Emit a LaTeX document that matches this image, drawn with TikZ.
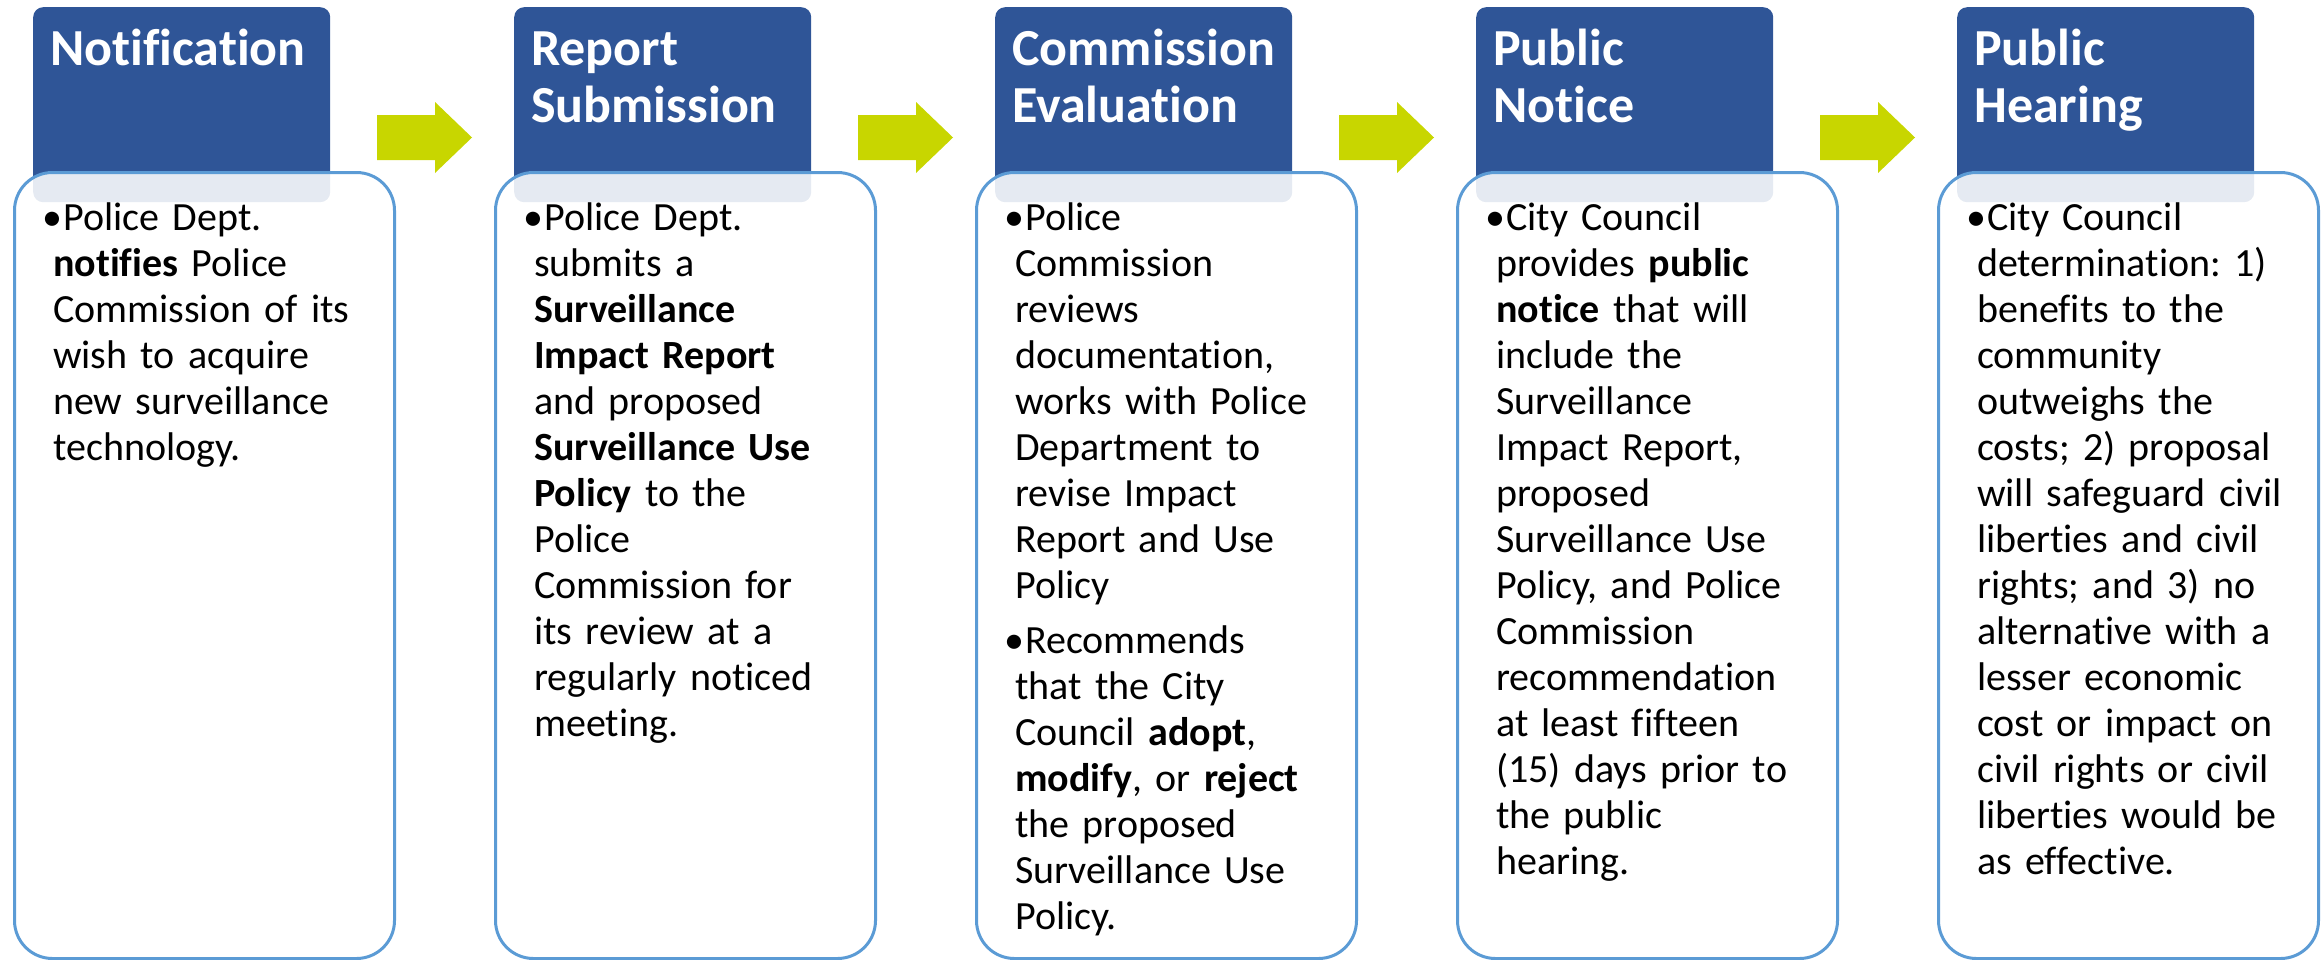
\documentclass[tikz,border=0pt]{standalone}
\usepackage{fontspec}
\setmainfont{Carlito}[Ligatures=NoCommon]
\frenchspacing

\definecolor{stepblue}{RGB}{47,85,151}
\definecolor{frameblue}{RGB}{91,155,213}
\definecolor{arrowgreen}{RGB}{200,214,0}

% bullet hung to the left of the first line
\newcommand{\bul}{\makebox[0pt][l]{\hspace{-11pt}\textbullet}\hspace*{10pt}}

\tikzset{
  headbox/.style={fill=stepblue, rounded corners=10pt, minimum width=297pt,
    minimum height=195pt, anchor=north west, inner sep=0pt},
  headtext/.style={anchor=base west, inner sep=0pt, text=white, text width=280pt,
    align=left, font=\fontsize{52}{57}\selectfont\bfseries},
  bodybox/.style={draw=frameblue, line width=3pt, fill=white, fill opacity=0.88,
    rounded corners=38pt, minimum width=380pt, minimum height=786pt,
    anchor=north west, inner sep=0pt},
  bodytext/.style={anchor=base west, inner sep=0pt, text width=340pt,
    align=left, font=\fontsize{40}{46}\selectfont},
  gaparrow/.style={fill=arrowgreen},
}

\begin{document}
\begin{tikzpicture}[x=1pt, y=-1pt]
  \useasboundingbox (0,0) rectangle (2323,959);

  % title tabs, then the boxes laid over their lower edge
  \foreach \i in {0,...,4}
    \node[headbox] (h\i) at ({33+481*\i},7) {};
  \foreach \i in {0,...,4}
    \node[bodybox] (b\i) at ({13+481*\i},171) {};

  % block arrows between the steps
  \foreach \i in {0,...,3}
    \fill[gaparrow] ({377+481*\i},115) -- ++(58,0) -- ++(0,-13) -- ++(37,35.5)
      -- ++(-37,35.5) -- ++(0,-13) -- ++(-58,0) -- cycle;

  % titles
  \node[headtext] (t0) at (50,65) {Notification};
  \node[headtext] (t1) at (531,65) {Report\\Submission};
  \node[headtext] (t2) at (1012,65) {Commission\\Evaluation};
  \node[headtext] (t3) at (1493,65) {Public\\Notice};
  \node[headtext] (t4) at (1974,65) {Public\\Hearing};

  % step texts
  \node[bodytext] (p0) at (53,230) {\bul Police Dept.\\
    \textbf{notifies} Police\\ Commission of its\\ wish to acquire\\
    new surveillance\\ technology.};
  \node[bodytext] (p1) at (534,230) {\bul Police Dept.\\ submits a\\
    \textbf{Surveillance}\\ \textbf{Impact Report}\\ and proposed\\
    \textbf{Surveillance Use}\\ \textbf{Policy} to the\\ Police\\
    Commission for\\ its review at a\\ regularly noticed\\ meeting.};
  \node[bodytext] (p2) at (1015,230) {\bul Police\\ Commission\\ reviews\\
    documentation,\\ works with Police\\ Department to\\ revise Impact\\
    Report and Use\\ Policy\\[9pt]
    \bul Recommends\\ that the City\\ Council \textbf{adopt},\\
    \textbf{modify}, or \textbf{reject}\\ the proposed\\ Surveillance Use\\ Policy.};
  \node[bodytext] (p3) at (1496,230) {\bul City Council\\
    provides \textbf{public}\\ \textbf{notice} that will\\ include the\\
    Surveillance\\ Impact Report,\\ proposed\\ Surveillance Use\\
    Policy, and Police\\ Commission\\ recommendation\\ at least fifteen\\
    (15) days prior to\\ the public\\ hearing.};
  \node[bodytext] (p4) at (1977,230) {\bul City Council\\
    determination: 1)\\ benefits to the\\ community\\ outweighs the\\
    costs; 2) proposal\\ will safeguard civil\\ liberties and civil\\
    rights; and 3) no\\ alternative with a\\ lesser economic\\
    cost or impact on\\ civil rights or civil\\ liberties would be\\
    as effective.};
\end{tikzpicture}
\end{document}
